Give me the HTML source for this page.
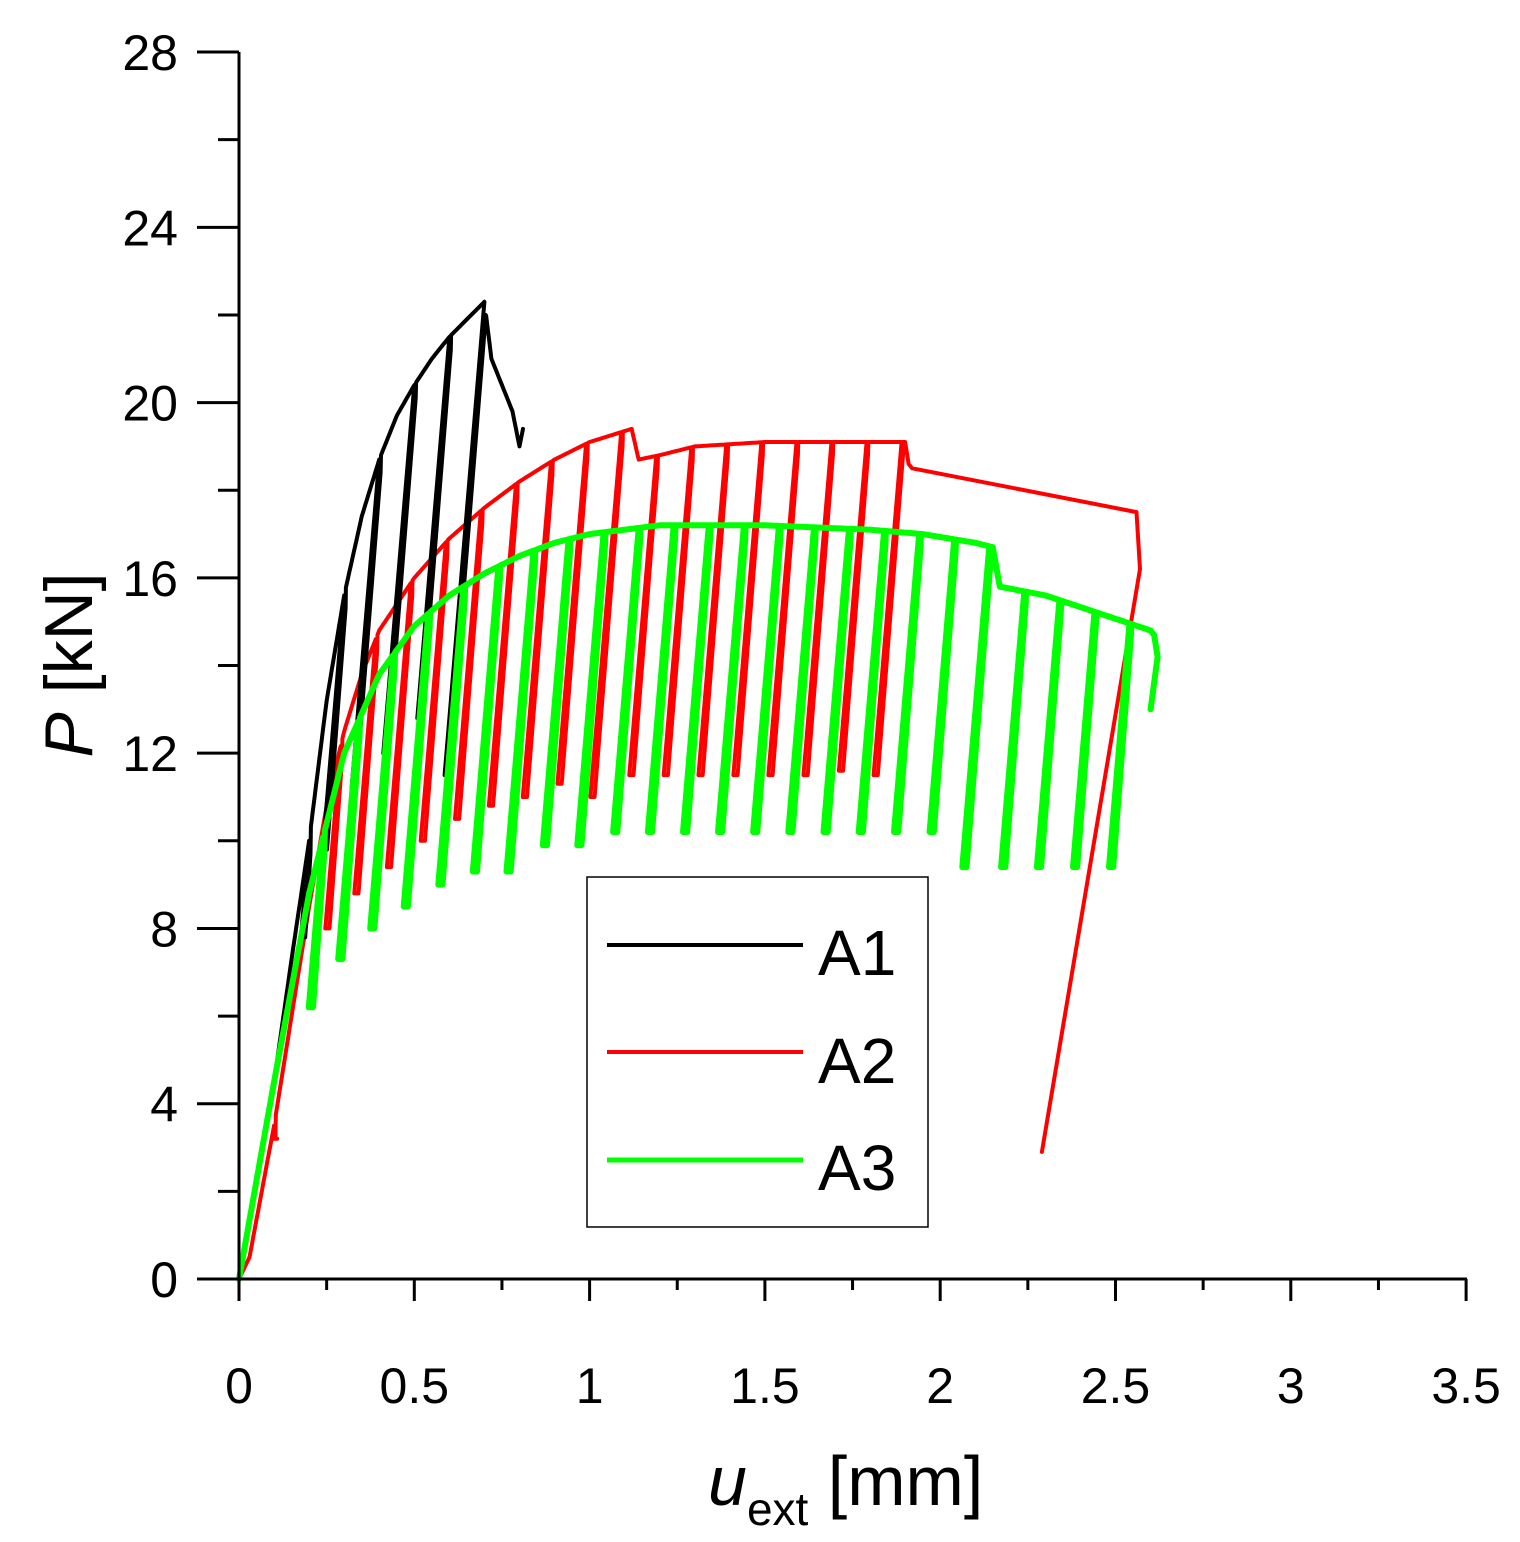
<!DOCTYPE html>
<html><head><meta charset="utf-8"><style>
html,body{margin:0;padding:0;background:#fff;}
svg{display:block;font-family:"Liberation Sans",Arial,sans-serif;}
</style></head><body>
<svg id="s" width="1520" height="1542" viewBox="0 0 1520 1542" xmlns="http://www.w3.org/2000/svg">
<g id="curves" fill="none" stroke-linejoin="round" stroke-linecap="round"></g>
<g stroke="#000" stroke-width="3" fill="none">
<line x1="239" y1="52" x2="239" y2="1280"/>
<line x1="238" y1="1279" x2="1467" y2="1279"/>
</g>
<g id="ticks" stroke="#000" stroke-width="3"></g>
<g id="labels" font-size="50" fill="#000"></g>
<text x="0" y="0" font-size="68" transform="translate(92,665) rotate(-90)" text-anchor="middle"><tspan font-style="italic">P</tspan> [kN]</text>
<text x="708" y="1505" font-size="70"><tspan font-style="italic">u</tspan><tspan font-size="46" dy="20">ext</tspan><tspan dy="-20"> [mm]</tspan></text>
<rect x="587" y="877" width="341" height="350" fill="#fff" stroke="#000" stroke-width="1.5"/>
<line x1="607" y1="945" x2="803" y2="945" stroke="#000" stroke-width="4"/>
<line x1="607" y1="1052" x2="803" y2="1052" stroke="#f00" stroke-width="4"/>
<line x1="607" y1="1160" x2="803" y2="1160" stroke="#0f0" stroke-width="5"/>
<text x="818" y="975" font-size="64">A1</text>
<text x="818" y="1083" font-size="64">A2</text>
<text x="818" y="1190" font-size="64">A3</text>
</svg>
<script>
var X=function(x){return 239+x*350.6;},Y=function(p){return 1279-p*43.82;};
var tk=document.getElementById('ticks'),lb=document.getElementById('labels'),NS='http://www.w3.org/2000/svg';
function el(t,a,p,txt){var e=document.createElementNS(NS,t);for(var k in a)e.setAttribute(k,a[k]);if(txt!=null)e.textContent=txt;p.appendChild(e);return e;}
for(var p=0;p<=28;p+=2){var y=Y(p);el('line',{x1:(p%4==0?197:218),y1:y,x2:239,y2:y},tk);if(p%4==0)el('text',{x:178,y:y+18,'text-anchor':'end'},lb,String(p));}
for(var i=0;i<=14;i++){var x=X(i*0.25);el('line',{x1:x,y1:1279,x2:x,y2:(i%2==0?1301:1290)},tk);if(i%2==0)el('text',{x:x,y:1403,'text-anchor':'middle'},lb,String(i*0.25));}
function interp(pts,x){if(x<=pts[0][0])return pts[0][1];for(var i=1;i<pts.length;i++){if(x<=pts[i][0]){var a=pts[i-1],b=pts[i];return a[1]+(b[1]-a[1])*(x-a[0])/(b[0]-a[0]);}}return pts[pts.length-1][1];}
function build(env,cycles,xend,k,extra){
 var d='M'+X(0)+' '+Y(0),x=0,step=0.005;
 cycles.forEach(function(c){
  for(;x<c[0];x+=step)d+=' L'+X(x).toFixed(1)+' '+Y(interp(env,x)).toFixed(1);
  var P=interp(env,c[0]),b=c[1],dx=(P-b)/k;
  d+=' L'+X(c[0]).toFixed(1)+' '+Y(P).toFixed(1);
  d+=' L'+X(c[0]-dx).toFixed(1)+' '+Y(b).toFixed(1);
  d+=' L'+X(c[0]-dx+0.012).toFixed(1)+' '+Y(b).toFixed(1);
  d+=' L'+X(c[0]+0.004).toFixed(1)+' '+Y(P-0.3).toFixed(1);
  x=c[0]+0.005;
 });
 for(;x<=xend;x+=step)d+=' L'+X(x).toFixed(1)+' '+Y(interp(env,x)).toFixed(1);
 if(extra)extra.forEach(function(q){d+=' L'+X(q[0]).toFixed(1)+' '+Y(q[1]).toFixed(1);});
 return d;
}
var g=document.getElementById('curves');
var e3=[[0,0],[0.1,4.5],[0.2,8.8],[0.3,12],[0.4,13.8],[0.5,14.9],[0.6,15.6],[0.7,16.1],[0.8,16.5],[0.9,16.8],[1.0,17.0],[1.2,17.2],[1.5,17.2],[1.8,17.1],[1.95,17.0],[2.1,16.8],[2.15,16.7],[2.17,15.8],[2.3,15.6],[2.45,15.2],[2.6,14.8],[2.61,14.7]];
var c3=[];for(var i=2;i<=25;i++){var xx=i*0.1,b;if(xx<0.25)b=6.2;else if(xx<0.35)b=7.3;else if(xx<0.45)b=8;else if(xx<0.55)b=8.5;else if(xx<0.65)b=9;else if(xx<0.85)b=9.3;else if(xx<1.05)b=9.9;else if(xx<2.05)b=10.2;else b=9.4;c3.push([xx+0.04,b]);}
var e2=[[0,0],[0.03,0.5],[0.1,3.5],[0.2,8.5],[0.25,10.8],[0.3,12.5],[0.35,13.8],[0.4,14.8],[0.5,16],[0.6,16.9],[0.7,17.6],[0.8,18.2],[0.9,18.7],[1.0,19.1],[1.12,19.4],[1.14,18.7],[1.2,18.8],[1.3,19.0],[1.5,19.1],[1.9,19.1],[1.91,18.6],[1.92,18.5]];
var c2=[[0.1,3.2],[0.29,8],[0.39,8.8],[0.49,9.4],[0.59,10],[0.69,10.5],[0.79,10.8],[0.89,11],[0.99,11.3],[1.09,11],[1.19,11.5],[1.29,11.5],[1.39,11.5],[1.49,11.5],[1.59,11.5],[1.69,11.5],[1.79,11.6],[1.89,11.5]];
var e1=[[0,0],[0.1,4.5],[0.15,7.3],[0.2,10],[0.25,13.2],[0.3,15.6],[0.35,17.4],[0.4,18.7],[0.45,19.7],[0.5,20.4],[0.55,21],[0.6,21.5],[0.65,21.9],[0.7,22.3],[0.72,21.0],[0.78,19.8],[0.8,19.0],[0.81,19.4]];
var c1=[[0.2,7.8],[0.3,9.8],[0.4,11.2],[0.5,12],[0.6,12.8],[0.7,11.5]];
el('path',{d:build(e2,c2,1.92,95,[[2.56,17.5],[2.57,16.2],[2.29,2.9]]),stroke:'#f00','stroke-width':4},g);
el('path',{d:build(e1,c1,0.81,95),stroke:'#000','stroke-width':4},g);
el('path',{d:build(e3,c3,2.61,95,[[2.62,14.2],[2.6,13]]),stroke:'#0f0','stroke-width':6},g);
</script>
</body></html>
